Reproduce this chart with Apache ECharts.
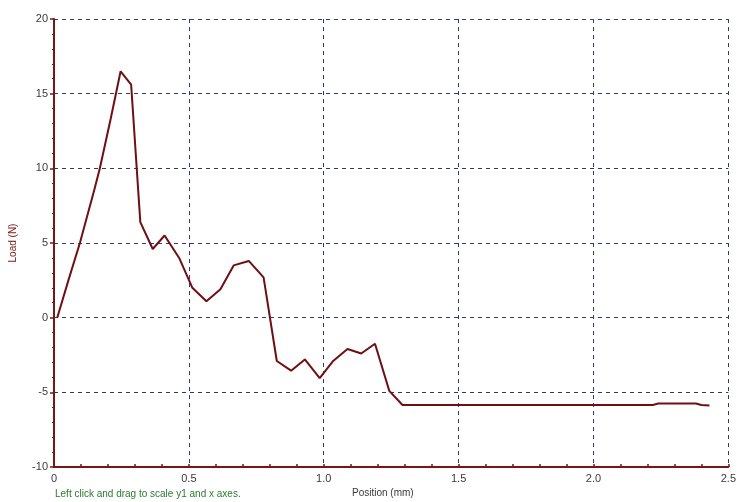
<!DOCTYPE html>
<html>
<head>
<meta charset="utf-8">
<style>
  html, body { margin: 0; padding: 0; background: #ffffff; }
  #chart { width: 739px; height: 502px; }
</style>
<script src="https://cdn.jsdelivr.net/npm/echarts@6/dist/echarts.min.js"></script>
</head>
<body>
<div id="chart"></div>
<script>
// Load vs. position trace
const positions = [0.012, 0.055, 0.096, 0.15, 0.17, 0.21, 0.247, 0.286, 0.32, 0.366, 0.41, 0.464, 0.513, 0.565, 0.617, 0.666, 0.722, 0.777, 0.826, 0.879, 0.93, 0.985, 1.035, 1.088, 1.139, 1.19, 1.243, 1.292, 1.6, 1.9, 2.22, 2.24, 2.38, 2.4, 2.43];
const loads = [0, 2.6, 5.0, 8.6, 10.0, 13.3, 16.5, 15.6, 6.4, 4.6, 5.5, 4.0, 2.0, 1.1, 1.9, 3.5, 3.8, 2.7, -2.9, -3.55, -2.8, -4.05, -2.9, -2.1, -2.4, -1.75, -4.9, -5.85, -5.85, -5.85, -5.85, -5.75, -5.75, -5.85, -5.88];

const xTickLabels = ['0', '0.5', '1.0', '1.5', '2.0', '2.5'];
const yTickLabels = ['-10', '-5', '0', '5', '10', '15', '20'];

const axisRed = '#7a1515';
const gridBlue = '#34347e';
const textGrey = '#3a3a3a';
const font = 'Liberation Sans, Arial, sans-serif';

const chart = echarts.init(document.getElementById('chart'), null, { renderer: 'canvas' });

chart.setOption({
  animation: false,
  backgroundColor: '#ffffff',
  grid: { left: 54, right: 5, top: 19, bottom: 35, containLabel: false },
  xAxis: {
    type: 'value',
    min: 0, max: 2.5, interval: 0.5,
    axisLine: { show: true, onZero: false, lineStyle: { color: axisRed, width: 2 } },
    axisTick: { show: true, inside: true, length: 3, lineStyle: { color: axisRed, width: 1.5 } },
    minorTick: { show: true, splitNumber: 5, length: 3, lineStyle: { color: axisRed, width: 1.5 } },
    splitLine: { show: true, showMinLine: false, showMaxLine: true, lineStyle: { color: gridBlue, type: [4, 4], width: 1 } },
    axisLabel: {
      color: textGrey, fontFamily: font, fontSize: 11, margin: 6,
      formatter: (v) => xTickLabels[Math.round(v / 0.5)]
    }
  },
  yAxis: {
    type: 'value',
    min: -10, max: 20, interval: 5,
    name: 'Load (N)',
    nameLocation: 'middle',
    nameRotate: 90,
    nameGap: 36,
    nameTextStyle: { color: axisRed, fontFamily: font, fontSize: 10, padding: [0, 0, 0, 0] },
    axisLine: { show: true, onZero: false, lineStyle: { color: axisRed, width: 2 } },
    axisTick: { show: true, length: 4, lineStyle: { color: axisRed, width: 1.5 } },
    minorTick: { show: true, splitNumber: 5, length: 2, lineStyle: { color: axisRed, width: 1 } },
    splitLine: { show: true, showMinLine: false, showMaxLine: true, lineStyle: { color: gridBlue, type: [4, 4], width: 1 } },
    axisLabel: {
      color: textGrey, fontFamily: font, fontSize: 11, margin: 6,
      formatter: (v) => yTickLabels[Math.round((v + 10) / 5)]
    }
  },
  graphic: [
    {
      type: 'text', left: 55, top: 489,
      style: { text: 'Left click and drag to scale y1 and x axes.', fill: '#2c7a2c', font: '10px ' + font }
    },
    {
      type: 'text', left: 352, top: 488,
      style: { text: 'Position (mm)', fill: textGrey, font: '10px ' + font }
    }
  ],
  series: [{
    type: 'line',
    data: positions.map((p, i) => [p, loads[i]]),
    showSymbol: false,
    lineStyle: { color: '#6e0f12', width: 2 },
    clip: true
  }]
});
</script>
</body>
</html>
